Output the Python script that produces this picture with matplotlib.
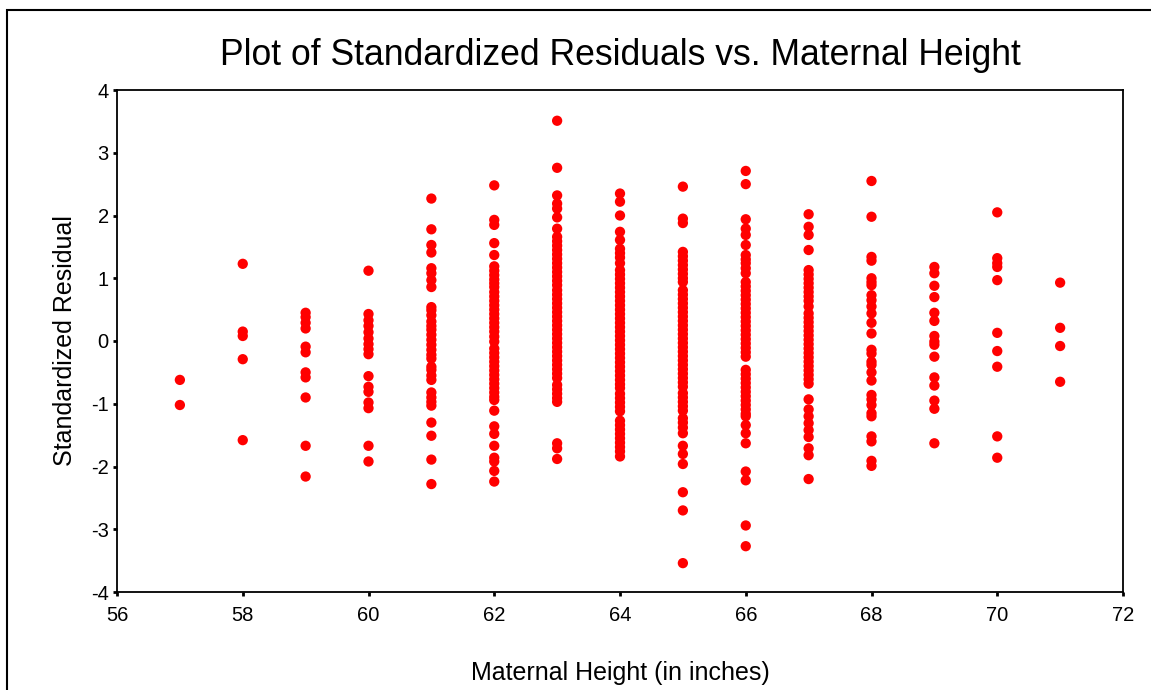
import matplotlib
matplotlib.use('Agg')
import matplotlib.pyplot as plt
from matplotlib.patches import Rectangle

# maternal height (inches) -> standardized residuals
heights = [57, 58, 59, 60, 61, 62, 63, 64, 65, 66, 67, 68, 69, 70, 71]

res_57 = [-0.62, -1.02]
res_58 = [1.23, 0.15, 0.08, -0.29, -1.58]
res_59 = [0.45, 0.38, 0.29, 0.20, -0.09, -0.18, -0.50, -0.58, -0.90, -1.67, -2.16]
res_60 = [1.12, 0.43, 0.33, 0.24, 0.14, 0.04, -0.05, -0.13, -0.21, -0.56, -0.73,
          -0.81, -0.98, -1.07, -1.67, -1.92]
res_61 = [2.27, 1.78, 1.53, 1.41, 1.16, 1.08, 0.97, 0.86, 0.54, 0.49, 0.41, 0.31,
          0.24, 0.18, 0.10, 0.02, -0.06, -0.14, -0.22, -0.28, -0.41, -0.46, -0.55,
          -0.62, -0.82, -0.90, -0.97, -1.03, -1.30, -1.51, -1.89, -2.28]
res_62 = [2.48, 1.93, 1.85, 1.56, 1.37, 1.19, 1.12, 1.05, 0.98, 0.92, 0.86, 0.78,
          0.71, 0.64, 0.57, 0.50, 0.43, 0.36, 0.29, 0.22, 0.15, 0.07, -0.01, -0.12,
          -0.19, -0.26, -0.33, -0.40, -0.47, -0.54, -0.61, -0.68, -0.75, -0.82,
          -0.89, -0.94, -1.11, -1.36, -1.48, -1.67, -1.86, -1.92, -2.07, -2.24]
res_63 = [3.51, 2.76, 2.32, 2.19, 2.11, 1.97, 1.79, 1.66, 1.59, 1.52, 1.45, 1.38,
          1.31, 1.24, 1.17, 1.10, 1.03, 0.96, 0.89, 0.81, 0.74, 0.67, 0.60, 0.53,
          0.46, 0.39, 0.32, 0.25, 0.18, 0.11, 0.04, -0.03, -0.10, -0.17, -0.24,
          -0.31, -0.38, -0.45, -0.52, -0.59, -0.70, -0.77, -0.84, -0.91, -0.97,
          -1.63, -1.71, -1.88]
res_64 = [2.35, 2.22, 2.00, 1.74, 1.61, 1.47, 1.40, 1.33, 1.24, 1.13, 1.06, 0.99,
          0.92, 0.85, 0.78, 0.71, 0.64, 0.57, 0.50, 0.43, 0.36, 0.29, 0.22, 0.15,
          0.08, 0.01, -0.06, -0.13, -0.20, -0.27, -0.34, -0.41, -0.48, -0.55,
          -0.62, -0.69, -0.75, -0.84, -0.91, -0.98, -1.05, -1.12, -1.27, -1.34,
          -1.41, -1.48, -1.55, -1.62, -1.69, -1.76, -1.84]
res_65 = [2.46, 1.95, 1.88, 1.42, 1.35, 1.28, 1.21, 1.14, 1.07, 1.00, 0.94, 0.81,
          0.74, 0.67, 0.60, 0.53, 0.46, 0.39, 0.32, 0.25, 0.18, 0.11, 0.04, -0.03,
          -0.10, -0.17, -0.24, -0.31, -0.38, -0.45, -0.52, -0.59, -0.66, -0.73,
          -0.83, -0.90, -0.97, -1.04, -1.11, -1.23, -1.30, -1.38, -1.47, -1.67,
          -1.80, -1.96, -2.41, -2.70, -3.54]
res_66 = [2.71, 2.50, 1.94, 1.79, 1.69, 1.53, 1.37, 1.30, 1.24, 1.16, 1.08, 0.94,
          0.87, 0.80, 0.73, 0.66, 0.59, 0.52, 0.45, 0.38, 0.31, 0.24, 0.17, 0.10,
          0.03, -0.04, -0.11, -0.18, -0.25, -0.46, -0.53, -0.60, -0.67, -0.74,
          -0.81, -0.88, -0.95, -1.02, -1.09, -1.16, -1.20, -1.34, -1.47, -1.63,
          -2.08, -2.22, -2.94, -3.27]
res_67 = [2.02, 1.82, 1.69, 1.45, 1.13, 1.06, 0.99, 0.92, 0.85, 0.78, 0.71, 0.64,
          0.55, 0.44, 0.37, 0.30, 0.23, 0.16, 0.09, 0.02, -0.05, -0.12, -0.19,
          -0.26, -0.33, -0.40, -0.47, -0.54, -0.61, -0.68, -0.93, -1.09, -1.20,
          -1.31, -1.42, -1.53, -1.71, -1.82, -2.20]
res_68 = [2.55, 1.98, 1.34, 1.28, 1.00, 0.94, 0.89, 0.73, 0.65, 0.55, 0.44, 0.29,
          0.12, -0.14, -0.20, -0.33, -0.38, -0.50, -0.63, -0.86, -0.93, -1.02,
          -1.15, -1.20, -1.52, -1.60, -1.91, -1.99]
res_69 = [1.18, 1.08, 0.88, 0.70, 0.45, 0.32, 0.08, -0.01, -0.06, -0.25, -0.58,
          -0.71, -0.95, -1.08, -1.63]
res_70 = [2.05, 1.32, 1.24, 1.18, 0.97, 0.13, -0.16, -0.41, -1.52, -1.86]
res_71 = [0.93, 0.21, -0.08, -0.65]

residuals = [res_57, res_58, res_59, res_60, res_61, res_62, res_63, res_64,
             res_65, res_66, res_67, res_68, res_69, res_70, res_71]

x_ticks = [56, 58, 60, 62, 64, 66, 68, 70, 72]
y_ticks = [-4, -3, -2, -1, 0, 1, 2, 3, 4]


def main():
    plt.rcParams['font.family'] = ['Liberation Sans', 'DejaVu Sans']
    plt.rcParams['axes.unicode_minus'] = False
    fig = plt.figure(figsize=(11.51, 6.90), dpi=100)
    ax = fig.add_axes([117 / 1151, 1 - 592 / 690, 1006 / 1151, 502 / 690])

    xs = []
    ys = []
    for h, vals in zip(heights, residuals):
        xs += [h] * len(vals)
        ys += vals
    ax.scatter(xs, ys, s=55, color='#ff0000', edgecolors='none', zorder=3)

    ax.set_xlim(56, 72)
    ax.set_ylim(-4, 4)
    ax.set_xticks(x_ticks)
    ax.set_yticks(y_ticks)
    ax.tick_params(direction='out', length=3, width=2, labelsize=14.5)
    ax.tick_params(axis='x', pad=7)
    ax.tick_params(axis='y', pad=3)
    for sp in ax.spines.values():
        sp.set_linewidth(1.3)
        sp.set_color('black')

    ax.set_title('Plot of Standardized Residuals vs. Maternal Height',
                 fontsize=25.6, pad=18)
    ax.set_xlabel('Maternal Height (in inches)', fontsize=18, labelpad=26)
    ax.set_ylabel('Standardized Residual', fontsize=18, labelpad=10)

    # outer frame that runs off the right and bottom edges
    fig.add_artist(Rectangle((7 / 1151, -0.2), 1.2, 1.2 - 10 / 690,
                             transform=fig.transFigure, fill=False,
                             linewidth=1.5, edgecolor='black'))

    fig.savefig('out.png', dpi=100)


if __name__ == '__main__':
    main()
